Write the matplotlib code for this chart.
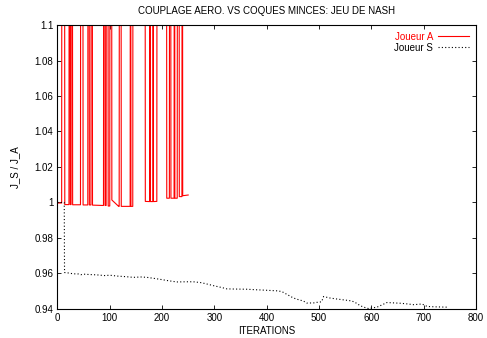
import matplotlib
matplotlib.use("Agg")
import matplotlib.pyplot as plt
from matplotlib.ticker import FormatStrFormatter, FuncFormatter

plt.rcParams['font.family'] = ['Liberation Sans', 'DejaVu Sans']

# Joueur A (red): vertices; values above 1.1 are off-chart spikes
H = 1.25
a_x = [0, 8, 8.5, 13.5, 14, 22, 22.5, 24, 24.5, 26, 26.5, 28.5, 29, 44, 44.5, 48.5, 49,
       58, 58.5, 60.5, 61, 64, 64.5, 66.5, 67, 88, 88.5, 90.5, 91, 93, 93.5, 96.5, 97,
       100, 100.5, 103.5, 104, 117, 118, 118.5, 121.5, 122, 139, 139.5, 140, 140.5, 144,
       144.5, 167.5, 168, 176.5, 177, 177.5, 182.5, 183, 183.5, 190, 190.5, 208.5, 209,
       214, 214.5, 216.5, 217, 223, 223.5, 224, 224.5, 229, 229.5, 232.5, 233, 238, 238.5,
       239, 239.5, 250]
a_y = [0.9997, 0.9997, H, H, 0.9988, 0.9988, H, H, 0.9988, 0.9988, H, H, 0.9987, 0.9987, H, H, 0.9986,
       0.9986, H, H, 0.9986, 0.9986, H, H, 0.9985, 0.9983, H, H, 0.9983, 0.9983, H, H, 0.998,
       0.998, H, H, 1.0014, 0.9978, 0.9978, H, H, 0.9978, 0.9978, H, H, 0.9978, 0.9978,
       H, H, 1.0006, 1.0005, H, 1.0005, 1.0005, H, 1.0005, 1.0006, H, H, 1.0024,
       1.0024, H, H, 1.0024, 1.0024, H, H, 1.0024, 1.0024, H, H, 1.0033, 1.0033, H,
       H, 1.0038, 1.0042]

# Joueur S (black dotted)
s_x = [0, 13, 13.5, 20, 30, 40, 45, 50, 60, 75, 90, 100, 115, 130, 145, 160, 171, 185, 196,
       210, 228, 245, 260, 275, 285, 300, 315, 324, 340, 362, 380, 395, 407, 420, 429, 440,
       451, 461, 470, 477, 490, 496, 505, 509, 520, 534, 550, 563, 572, 579, 588, 595, 603,
       611, 620, 630, 643, 656, 670, 681, 690, 697, 707, 720, 745]
s_y = [1.0, 1.0, 0.9605, 0.9603, 0.9598, 0.9597, 0.9593, 0.9596, 0.9594, 0.9592, 0.9588,
       0.9590, 0.9585, 0.9582, 0.9578, 0.9580, 0.9578, 0.9572, 0.9567, 0.9560, 0.9552,
       0.9553, 0.9553, 0.9548, 0.9541, 0.9530, 0.9520, 0.9513, 0.9512, 0.9511, 0.9508,
       0.9506, 0.9504, 0.9502, 0.9498, 0.9480, 0.9462, 0.9452, 0.9445, 0.9433, 0.9434,
       0.9437, 0.9440, 0.9470, 0.9462, 0.9456, 0.9450, 0.9445, 0.9432, 0.9418, 0.9408,
       0.9402, 0.9406, 0.9410, 0.9422, 0.9436, 0.9434, 0.9432, 0.9428, 0.9424, 0.9426,
       0.9428, 0.9414, 0.9412, 0.9410]

x_ticks = [0, 100, 200, 300, 400, 500, 600, 700, 800]
y_ticks = [0.94, 0.96, 0.98, 1.0, 1.02, 1.04, 1.06, 1.08, 1.1]

fig = plt.figure(figsize=(4.87, 3.38), dpi=100)
ax = fig.add_axes([0.118, 0.086, 0.859, 0.840])

ax.plot(a_x, a_y, color='#ff0000', lw=0.8, label='Joueur A')
ax.plot(s_x, s_y, color='black', lw=0.8, linestyle=(0, (1, 2)), label='Joueur S')

ax.set_xlim(0, 800)
ax.set_ylim(0.94, 1.1)
ax.set_xticks(x_ticks)
ax.set_yticks(y_ticks)
ax.yaxis.set_major_formatter(FuncFormatter(lambda v, p: '%g' % round(v, 4)))
ax.tick_params(direction='in', length=3, width=0.6, labelsize=7, top=True, right=True,
               pad=3)
for sp in ax.spines.values():
    sp.set_linewidth(0.8)

ax.set_title('COUPLAGE AERO. VS COQUES MINCES: JEU DE NASH', fontsize=7, pad=8)
ax.set_xlabel('ITERATIONS', fontsize=7, labelpad=2)
ax.set_ylabel('J_S / J_A', fontsize=7, labelpad=10)

leg = ax.legend(loc='upper right', frameon=False, fontsize=7, markerfirst=False,
                handlelength=3.2, handletextpad=0.5, borderaxespad=0.3, labelspacing=0.1)
for t, c in zip(leg.get_texts(), ['#ff0000', 'black']):
    t.set_color(c)

fig.savefig('out.png', dpi=100)
